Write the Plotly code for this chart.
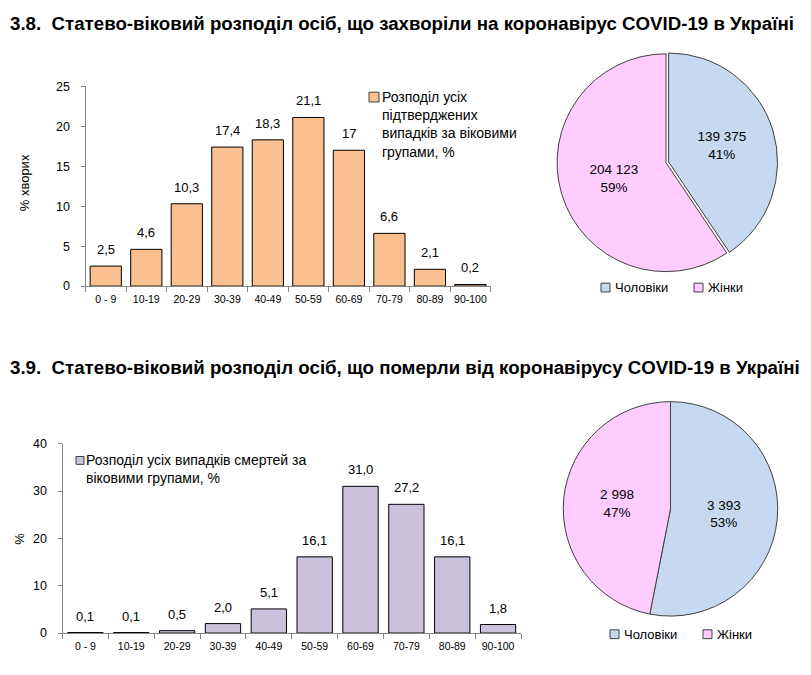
import plotly.graph_objects as go

W, H = 811, 675

# ---------------- data ----------------
age_groups = ["0 - 9", "10-19", "20-29", "30-39", "40-49", "50-59", "60-69", "70-79", "80-89", "90-100"]
cases_pct = [2.5, 4.6, 10.3, 17.4, 18.3, 21.1, 17, 6.6, 2.1, 0.2]
deaths_pct = [0.1, 0.1, 0.5, 2.0, 5.1, 16.1, 31.0, 27.2, 16.1, 1.8]
sex_labels = ["Чоловіки", "Жінки"]
cases_by_sex = [139375, 204123]
deaths_by_sex = [3393, 2998]

title1 = "3.8.  Статево-віковий розподіл осіб, що захворіли на коронавірус COVID-19 в Україні"
title2 = "3.9.  Статево-віковий розподіл осіб, що померли від коронавірусу COVID-19 в Україні"
legend_cases = "Розподіл усіх<br>підтверджених<br>випадків за віковими<br>групами, %"
legend_deaths = "Розподіл усіх випадків смертей за<br>віковими групами, %"

# ---------------- style ----------------
C_CASES = "#FAC090"
C_DEATHS = "#CCC1DA"
C_MEN = "#C6D9F0"
C_WOMEN = "#FFCCFF"
AXIS_C = "#868686"
FONT = "Liberation Sans, Arial, sans-serif"


def px(x):
    return x / W


def py(y):
    return 1 - y / H


fig = go.Figure()

cases_text = [f"{v:g}".replace(".", ",") for v in cases_pct]
deaths_text = [f"{v:.1f}".replace(".", ",") for v in deaths_pct]

fig.add_trace(go.Bar(
    x=age_groups, y=cases_pct,
    marker=dict(color=C_CASES, line=dict(color="black", width=1)),
    xaxis="x", yaxis="y", showlegend=False, hoverinfo="x+y",
))
fig.add_trace(go.Bar(
    x=age_groups, y=deaths_pct,
    marker=dict(color=C_DEATHS, line=dict(color="black", width=1)),
    xaxis="x2", yaxis="y2", showlegend=False, hoverinfo="x+y",
))

fig.add_trace(go.Pie(
    labels=sex_labels, values=cases_by_sex, sort=False, direction="clockwise", rotation=0,
    pull=[0.025, 0], texttemplate="%{value:,}<br>%{percent:.0%}", textposition="inside",
    insidetextorientation="horizontal",
    textfont=dict(family=FONT, size=13.5, color="black"),
    marker=dict(colors=[C_MEN, C_WOMEN], line=dict(color="#404040", width=1)),
    domain=dict(x=[px(551), px(781)], y=[py(273), py(45)]), showlegend=False,
))
fig.add_trace(go.Pie(
    labels=sex_labels, values=deaths_by_sex, sort=False, direction="clockwise", rotation=0,
    texttemplate="%{value:,}<br>%{percent:.0%}", textposition="inside",
    insidetextorientation="horizontal",
    textfont=dict(family=FONT, size=13.5, color="black"),
    marker=dict(colors=[C_MEN, C_WOMEN], line=dict(color="#404040", width=1)),
    domain=dict(x=[px(561), px(780)], y=[py(622), py(403)]), showlegend=False,
))

axis_common = dict(showline=True, linecolor=AXIS_C, linewidth=1, ticks="outside",
                   tickcolor=AXIS_C, showgrid=False, zeroline=False, fixedrange=True)

fig.update_layout(
    width=W, height=H, margin=dict(l=0, r=0, t=0, b=0),
    paper_bgcolor="white", plot_bgcolor="white",
    separators=", ",
    font=dict(family=FONT, size=12, color="black"),
    xaxis=dict(domain=[px(85.5), px(490.7)], anchor="y", tickson="boundaries", ticklen=5,
               ticklabelstandoff=3, tickangle=0, tickfont=dict(size=10.5), **axis_common),
    yaxis=dict(domain=[py(285), py(81)], anchor="x", range=[0, 25], dtick=5, ticklen=4,
               ticklabelstandoff=8, tickfont=dict(size=12.5), **axis_common),
    xaxis2=dict(domain=[px(62.5), px(521)], anchor="y2", tickson="boundaries", ticklen=5,
                ticklabelstandoff=3, tickangle=0, tickfont=dict(size=10.5), **axis_common),
    yaxis2=dict(domain=[py(639.3), py(446)], anchor="x2", range=[0, 40], dtick=10, ticklen=4,
                ticklabelstandoff=8, tickfont=dict(size=12.5), **axis_common),
    bargap=0.23,
)


def note(text, x, y, size=13, xanchor="left", yanchor="middle", **kw):
    return dict(text=text, x=px(x), y=py(y), xref="paper", yref="paper",
                xanchor=xanchor, yanchor=yanchor, showarrow=False,
                font=dict(family=FONT, size=size, color="black"), **kw)


ann = [
    note(f"<b>{title1}</b>", 8, 17, size=18.7),
    note(f"<b>{title2}</b>", 8, 368, size=18.7),
    note("% хворих", 24, 180, xanchor="center", textangle=-90),
    note("%", 20, 543, xanchor="center", textangle=-90),
    note(legend_cases, 380, 82, size=14, yanchor="top", align="left"),
    note(legend_deaths, 84, 452, size=14, yanchor="top", align="left"),
]

# value labels above bars, placed through the data axes
for cats, vals, texts, xr, yr in [(age_groups, cases_pct, cases_text, "x", "y"),
                                  (age_groups, deaths_pct, deaths_text, "x2", "y2")]:
    for c, v, t in zip(cats, vals, texts):
        ann.append(dict(text=t, x=c, y=v, xref=xr, yref=yr, xanchor="center", yanchor="bottom",
                        yshift=7, showarrow=False, font=dict(family=FONT, size=13, color="black")))

shapes = []


def square(x0, y0, size, color):
    shapes.append(dict(type="rect", xref="paper", yref="paper",
                       x0=px(x0), x1=px(x0 + size), y0=py(y0 + size), y1=py(y0),
                       fillcolor=color, line=dict(color="#404040", width=1)))


square(369, 87, 10, C_CASES)
square(76, 459, 8, C_DEATHS)

# pie legends
for sx1, sx2, sy in [(601, 694, 282), (610, 703, 636)]:
    square(sx1, sy, 9, C_MEN)
    square(sx2, sy, 9, C_WOMEN)
    ann.append(note(sex_labels[0], sx1 + 12, sy + 4.5))
    ann.append(note(sex_labels[1], sx2 + 12, sy + 4.5))

fig.update_layout(annotations=ann, shapes=shapes)

# remove the default page margin so the figure fills the window exactly
fig.write_html("out.html", config={"displayModeBar": False},
               post_script="document.body.style.margin='0';document.body.style.overflow='hidden';")
